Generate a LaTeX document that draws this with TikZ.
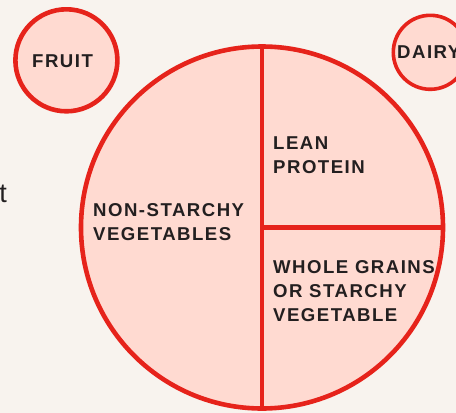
\documentclass[tikz,border=0pt]{standalone}
\usepackage{fontspec}
\setmainfont{Liberation Sans}
\newfontfamily\lblfont[LetterSpace=8]{Liberation Sans}
\definecolor{bgc}{HTML}{F8F3EE}
\definecolor{platefill}{HTML}{FFDAD1}
\definecolor{platered}{HTML}{E6231B}
\definecolor{inkc}{HTML}{231F20}
\newcommand\stack[1]{\begin{tabular}[t]{@{}l@{}}#1\end{tabular}}
\tikzset{
  platecircle/.style={circle, draw=platered, fill=platefill, inner sep=0pt},
  divider/.style={draw=platered, line width=4.6pt},
  lbl/.style={inner sep=0pt, text=inkc, anchor=base west,
    font=\lblfont\bfseries\fontsize{18.6}{24}\selectfont},
}
\begin{document}
\begin{tikzpicture}[x=1pt,y=-1pt]
\fill[bgc] (0,0) rectangle (456,413);
\useasboundingbox (0,0) rectangle (456,413);
% side circles
\node[platecircle, line width=4.6pt, minimum size=102pt] (fruit) at (66.4,60.3) {};
\node[platecircle, line width=3.6pt, minimum size=74pt] (dairy) at (430.3,52.3) {};
% main plate
\node[platecircle, line width=4.6pt, minimum size=362pt] (plate) at (262,227.5) {};
\draw[divider] (plate.north) -- (plate.south);
\draw[divider] (plate.center) -- (plate.east);
% labels
\node[lbl] (tfruit) at (32,67) {FRUIT};
\node[lbl] (tdairy) at (397,58) {DAIRY};
\node[lbl] (tveg) at (93,216) {\stack{NON-STARCHY\\VEGETABLES}};
\node[lbl] (tprot) at (273,149) {\stack{LEAN\\PROTEIN}};
\node[lbl] (tgrain) at (273,273) {\stack{WHOLE GRAINS\\OR STARCHY\\VEGETABLE}};
\node[inner sep=0pt, anchor=base east, text=inkc, font=\fontsize{27}{30}\selectfont] (tcut) at (7,202.7) {t};
\end{tikzpicture}
\end{document}
